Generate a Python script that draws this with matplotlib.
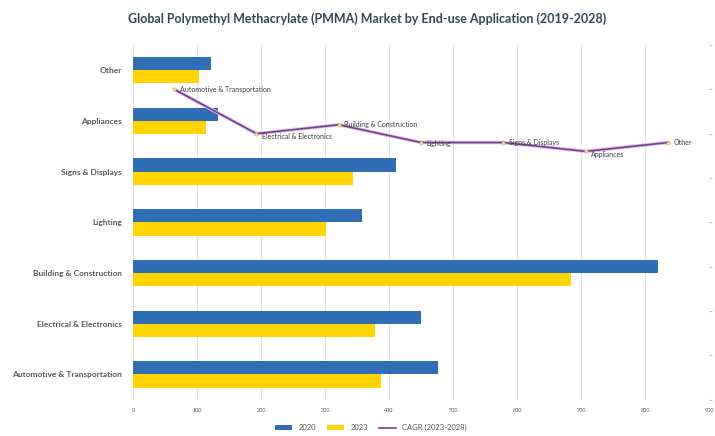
import matplotlib.pyplot as plt
import numpy as np

plt.rcParams['font.family'] = ['Lato', 'DejaVu Sans']

categories = ['Automotive & Transportation', 'Electrical & Electronics', 'Building & Construction',
              'Lighting', 'Signs & Displays', 'Appliances', 'Other']
values_2020 = [477, 450, 820, 358, 411, 133, 122]
values_2023 = [388, 378, 684, 302, 344, 114, 103]
cagr = [7.0, 6.0, 6.2, 5.8, 5.8, 5.6, 5.8]

blue = '#2F6DB5'
yellow = '#FFD400'
purple = '#7A3C8E'
text_grey = '#595959'

fig = plt.figure(figsize=(7.15, 4.36), dpi=100)
ax = fig.add_axes([0.186, 0.083, 0.806, 0.814])

y = np.arange(len(categories))
h = 0.26
ax.barh(y + h / 2, values_2020, height=h, color=blue, label='2020', zorder=3)
ax.barh(y - h / 2, values_2023, height=h, color=yellow, label='2023', zorder=3)
ax.set_ylim(-0.5, len(categories) - 0.5)
ax.set_xlim(0, 900)
ax.set_xticks(np.arange(0, 901, 100))
ax.set_yticks(y)
ax.set_yticklabels(categories, fontsize=6, fontweight='bold', color=text_grey)
ax.tick_params(axis='x', labelsize=4, colors=text_grey, length=0, pad=6)
ax.tick_params(axis='y', length=0, pad=8)
ax.grid(axis='x', color='#E3E3E3', linewidth=0.8, zorder=0)
for s in ax.spines.values():
    s.set_visible(False)

# CAGR line on its own category axis
ax2 = fig.add_axes(ax.get_position(), frameon=False)
xs = np.arange(len(categories))
ax2.plot(xs, cagr, color='#DCC3E8', linewidth=2.6, zorder=4, solid_capstyle='round')
line, = ax2.plot(xs, cagr, color=purple, linewidth=1.2, zorder=5, label='CAGR (2023-2028)')
ax2.scatter(xs, cagr, s=6, color='#F2E27A', edgecolor='#C9B25A', linewidths=0.3, zorder=6)
offsets = [(4, 0), (4, -2), (4, 0), (4, -1), (4, 0), (4, -2), (4, 0)]
for xi, yi, name, (dx, dy) in zip(xs, cagr, categories, offsets):
    ax2.annotate(name, (xi, yi), xytext=(dx, dy), textcoords='offset points',
                 fontsize=5, color='#404040', va='center', ha='left', zorder=7)
ax2.set_xlim(-0.5, len(categories) - 0.5)
ax2.set_ylim(0, 8)
ax2.set_xticks([])
ax2.yaxis.tick_right()
ax2.set_yticks(np.arange(0, 9, 1))
ax2.tick_params(axis='y', length=2, colors='#BFBFBF', labelright=False)

handles = [ax.patches[0], ax.patches[len(categories)], line]
fig.legend(handles, ['2020', '2023', 'CAGR (2023-2028)'], loc='lower center',
           bbox_to_anchor=(0.519, -0.005), ncol=3, frameon=False, fontsize=5.5,
           handlelength=2.2, handleheight=0.5, columnspacing=1.5, labelcolor=text_grey)

fig.text(0.513, 0.957, 'Global Polymethyl Methacrylate (PMMA) Market by End-use Application (2019-2028)',
         ha='center', va='center', fontsize=9, fontweight='bold', color='#2E4A52')

plt.savefig('out.png', dpi=100)
